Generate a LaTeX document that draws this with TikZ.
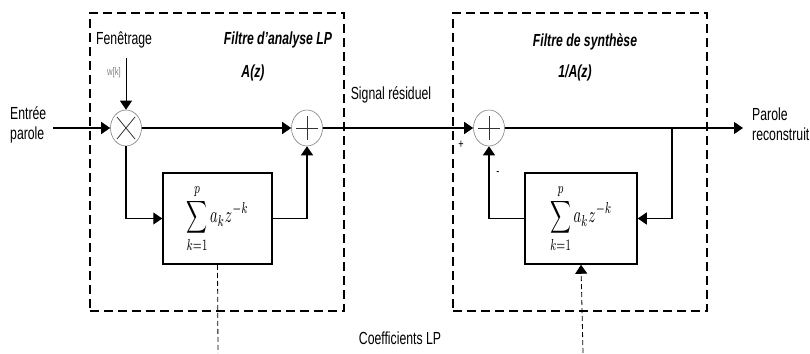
\documentclass[tikz,border=0pt]{standalone}
\usepackage{fontspec}
\setmainfont{Liberation Sans}[FakeStretch=0.7]
\usetikzlibrary{arrows.meta,shapes.geometric}
\newcommand{\lpsum}{\resizebox*{62pt}{68pt}{$\displaystyle\sum_{k=1}^{p} a_k z^{-k}$}}
\begin{document}
\begin{tikzpicture}[x=1pt,y=-1pt,
  lbl/.style={font=\fontsize{17.5}{20}\selectfont, inner sep=0pt},
  ttl/.style={font=\fontsize{17.5}{20}\selectfont\bfseries\itshape, inner sep=0pt},
  frame/.style={draw, line width=2.5pt, dash pattern=on 9pt off 5pt, inner sep=0pt},
  sig/.style={line width=1.3pt},
  arr/.style={line width=1.3pt, -{Triangle[length=9pt,width=12pt]}},
  ctl/.style={line width=0.8pt, dash pattern=on 5pt off 3pt},
  op/.style={draw=gray, line width=0.6pt, ellipse, minimum width=31pt, minimum height=36pt, inner sep=0pt},
  blk/.style={draw, line width=1.5pt, inner sep=0pt},
  sym/.style={line width=0.8pt, draw=black!80}
]
\useasboundingbox (0,0) rectangle (810,353);

% frames
\node[frame, minimum width=254pt, minimum height=298pt] (f1) at (217,162) {};
\node[frame, minimum width=254pt, minimum height=298pt] (f2) at (580,162) {};

% operators
\node[op] (m) at (126,128) {};
\draw[sym] ([shift={(-9,-11)}]m.center) -- ([shift={(9,11)}]m.center);
\draw[sym] ([shift={(-9,11)}]m.center) -- ([shift={(9,-11)}]m.center);
\node[op] (a1) at (307,128) {};
\draw[sym] ([shift={(-11,0)}]a1.center) -- ([shift={(11,0)}]a1.center);
\draw[sym] ([shift={(0,-12)}]a1.center) -- ([shift={(0,12)}]a1.center);
\node[op] (a2) at (489,128) {};
\draw[sym] ([shift={(-11,0)}]a2.center) -- ([shift={(11,0)}]a2.center);
\draw[sym] ([shift={(0,-12)}]a2.center) -- ([shift={(0,12)}]a2.center);

% blocks
\node[blk, minimum width=109pt, minimum height=91pt] (b1) at (217.5,218.5) {\lpsum};
\node[blk, minimum width=112pt, minimum height=91pt] (b2) at (581,218.5) {\lpsum};

% coordinates
\coordinate (inS) at (53,128);
\coordinate (wk) at (126,58);
\coordinate (br) at (672,128);
\coordinate (out) at (743,128);
\coordinate (d1) at (218,353);
\coordinate (d2) at (583,353);

% connectors
\draw[arr] (inS) -- (m.west);
\draw[line width=0.8pt, -{Triangle[length=9pt,width=12pt]}] (wk) -- (m.north);
\draw[arr] (m.east) -- (a1.west);
\draw[arr] (m.south) |- (b1.west);
\draw[arr] (b1.east) -| (a1.south);
\draw[arr] (a1.east) -- (a2.west);
\draw[arr] (a2.east) -- (out);
\draw[arr] (br) |- (b2.east);
\draw[arr] (b2.west) -| (a2.south);
\draw[ctl] (b1.south) -- (d1);
\draw[ctl, -{Triangle[length=9pt,width=12pt]}] (d2) -- (b2.south);

% labels
\node[lbl, anchor=west, align=left] (tin) at (10,125) {Entrée\\parole};
\node[lbl, anchor=west] (tfen) at (96,40) {Fenêtrage};
\node[font=\fontsize{11}{12}\selectfont, text=gray, inner sep=0pt] (tw) at (114,73) {w[k]};
\node[ttl] (tfa) at (278,40) {Filtre d'analyse LP};
\node[ttl] (taz) at (253,73) {A(z)};
\node[lbl] (tsr) at (391,95) {Signal résiduel};
\node[font=\fontsize{13}{14}\selectfont, inner sep=0pt] (tp) at (461,145) {+};
\node[font=\fontsize{13}{14}\selectfont, inner sep=0pt] (tm) at (498,174) {-};
\node[ttl] (tfs) at (585,42) {Filtre de synthèse};
\node[ttl] (tiaz) at (575,73) {1/A(z)};
\node[lbl, anchor=west, align=left] (tout) at (752,124) {Parole\\reconstruit};
\node[lbl] (tco) at (400,338) {Coefficients LP};
\end{tikzpicture}
\end{document}
